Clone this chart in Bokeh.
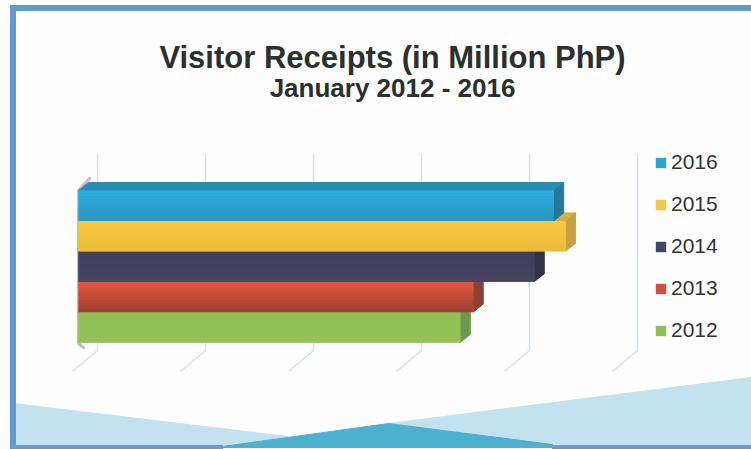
from bokeh.embed import file_html
from bokeh.resources import INLINE
from bokeh.plotting import figure
from bokeh.models import Label, Legend, LegendItem, Range1d

TITLE = "Visitor Receipts (in Million PhP)"
SUBTITLE = "January 2012 - 2016"
years = ["2012", "2013", "2014", "2015", "2016"]
receipts = [70700, 73100, 84400, 90200, 88000]
gridlines = [0, 20000, 40000, 60000, 80000, 100000]
legend_colors = ["#8fc056", "#cf4f3a", "#45456a", "#f6c644", "#2aa5d4"]
front_top = ["#8fc055", "#de563e", "#3e3e5e", "#f7c93e", "#2bade0"]
front_bot = ["#94c25a", "#9e3f30", "#45445f", "#ecbb3a", "#2a96be"]
top_faces = ["#7fa94d", "#b04a38", "#35354f", "#d8ad42", "#2a8cb0"]
side_faces = ["#6c9a4c", "#8f4034", "#33333f", "#c9a23f", "#24799a"]

PX_W, PX_H = 751, 449
K = 20000 / 108.0   # value units per pixel
ROW = 30.4
def X(px): return (px - 78) * K
def Y(py): return (342 - py) / ROW
DX, DY = 10 * K, 8 / ROW

p = figure(width=PX_W, height=PX_H, output_backend="svg", toolbar_location=None,
           x_axis_location=None, y_axis_location=None, min_border=0,
           outline_line_color=None, background_fill_color="#fefefe",
           border_fill_color="#fefefe",
           x_range=Range1d(X(0), X(751)), y_range=Range1d(Y(449), Y(0)))
p.grid.visible = False

# page decoration
p.patch([X(13), X(287), X(222), X(13)], [Y(403), Y(436), Y(447), Y(447)], color="#c3e1ee")
p.patch([X(388), X(751), X(751), X(550)], [Y(423), Y(377), Y(447), Y(444)], color="#c3e1ee")
p.patch([X(222), X(388), X(552), X(552), X(222)], [Y(446), Y(423), Y(444), Y(447), Y(447)], color="#4cb1cf")
p.quad(left=X(10), right=X(751), top=Y(5), bottom=Y(10), color="#5f9ad6")
p.quad(left=X(10), right=X(15), top=Y(5), bottom=Y(449), color="#5f9ad6")
p.quad(left=X(10), right=X(222), top=Y(445), bottom=Y(449), color="#6b9ad0")
p.quad(left=X(552), right=X(751), top=Y(445), bottom=Y(449), color="#6b9ad0")

# gridlines: back wall and floor
for g in gridlines:
    bx = g + 19 * K
    fx = g - 6 * K
    p.line([bx, bx, fx], [Y(153), Y(350), Y(371)], line_color="#d3e0f0", line_width=1.4)

# left wall stub
p.line([X(90), X(78), X(78), X(84)], [Y(177), Y(190), Y(343), Y(348)],
       line_color="#bdbdc2", line_width=3)

renderers = []
for i, (yr, v) in enumerate(zip(years, receipts)):
    lo, hi = float(i), float(i + 1)
    # top face
    p.patch([0, DX, v + DX, v], [hi, hi + DY, hi + DY, hi], color=top_faces[i])
    # end face
    p.patch([v, v + DX, v + DX, v], [lo, lo + DY, hi + DY, hi], color=side_faces[i])
    r = p.quad(left=0, right=v, bottom=lo, top=hi, fill_color=legend_colors[i], line_color=None)
    renderers.append(r)
    # front-face shading in thin strips
    n = 10
    c0 = [int(front_top[i][k:k + 2], 16) for k in (1, 3, 5)]
    c1 = [int(front_bot[i][k:k + 2], 16) for k in (1, 3, 5)]
    for s in range(n):
        t = s / (n - 1)
        col = "#%02x%02x%02x" % tuple(round(a + (b - a) * t) for a, b in zip(c0, c1))
        p.quad(left=0, right=v, top=hi - s / n, bottom=hi - (s + 1) / n - 0.005,
               fill_color=col, line_color=None)

p.add_layout(Label(x=X(392), y=Y(74), text=TITLE, text_align="center",
                   text_font="Liberation Sans", text_font_style="bold",
                   text_font_size="31px", text_color="#2a302e"))
p.add_layout(Label(x=X(392), y=Y(102), text=SUBTITLE, text_align="center",
                   text_font="Liberation Sans", text_font_style="bold",
                   text_font_size="26px", text_color="#2a302e"))

legend = Legend(items=[LegendItem(label=years[i], renderers=[renderers[i]]) for i in range(4, -1, -1)],
                location=(654, 107), orientation="vertical", glyph_width=13, glyph_height=13,
                label_standoff=4, spacing=18, padding=0, margin=0,
                background_fill_alpha=0, border_line_color=None,
                label_text_font="Liberation Sans", label_text_font_size="21px",
                label_text_color="#2e3433", label_height=23)
p.add_layout(legend)

open("out.html", "w").write(file_html(p, INLINE))
